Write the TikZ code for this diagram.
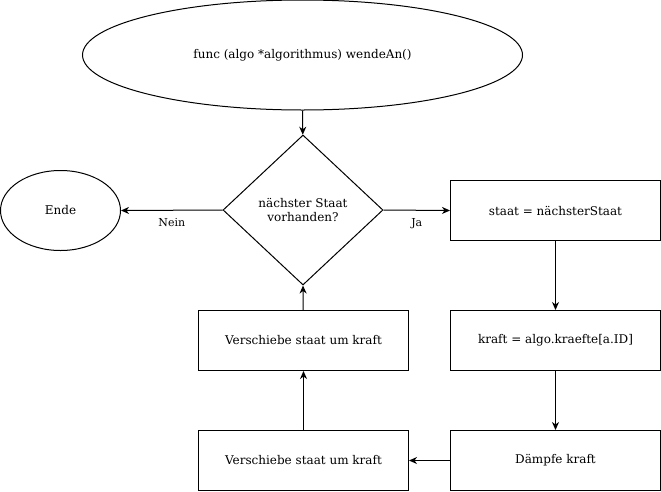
\documentclass[tikz,border=0pt]{standalone}
\usepackage{fontspec}
\setmainfont{DejaVu Serif}
\usetikzlibrary{shapes.geometric,arrows.meta}
\begin{document}
\begin{tikzpicture}[x=1pt,y=-1pt,
  every node/.style={font=\fontsize{12}{14}\selectfont, inner sep=0pt, align=center},
  shp/.style={draw, line width=1pt},
  boxnode/.style={shp, rectangle, minimum width=210pt, minimum height=60pt},
  ell/.style={shp, ellipse},
  dec/.style={shp, diamond, minimum width=160pt, minimum height=150pt, aspect=1.0667},
  conn/.style={line width=1pt, -{Stealth[length=8pt,width=7pt,inset=2.5pt]}},
  lbl/.style={font=\fontsize{11}{13}\selectfont}
]
\useasboundingbox (0,0) rectangle (661,491);
\node[ell, minimum width=440pt, minimum height=110pt] (start) at (302.5,55) {func (algo *algorithmus) wendeAn()};
\node[ell, minimum width=120pt, minimum height=80pt] (ende) at (60.5,210.5) {Ende};
\node[dec] (dec) at (303,210) {nächster Staat\\vorhanden?};
\node[boxnode] (s1) at (555.5,210.5) {staat = nächsterStaat};
\node[boxnode] (s2) at (555.5,340.5) {kraft = algo.kraefte[a.ID]};
\node[boxnode] (s3) at (555.5,460.5) {Dämpfe kraft};
\node[boxnode] (s4) at (303.5,460.5) {Verschiebe staat um kraft};
\node[boxnode] (s5) at (303.5,340.5) {Verschiebe staat um kraft};
\draw[conn] (start) -- (dec);
\draw[conn] (dec.west) -- (ende.east) node[lbl, pos=0.5, below=8pt] (nein) {Nein};
\draw[conn] (dec.east) -- (s1.west) node[lbl, pos=0.5, below=8pt] (ja) {Ja};
\draw[conn] (s1) -- (s2);
\draw[conn] (s2) -- (s3);
\draw[conn] (s3) -- (s4);
\draw[conn] (s4) -- (s5);
\draw[conn] (s5) -- (dec.south);
\end{tikzpicture}
\end{document}
